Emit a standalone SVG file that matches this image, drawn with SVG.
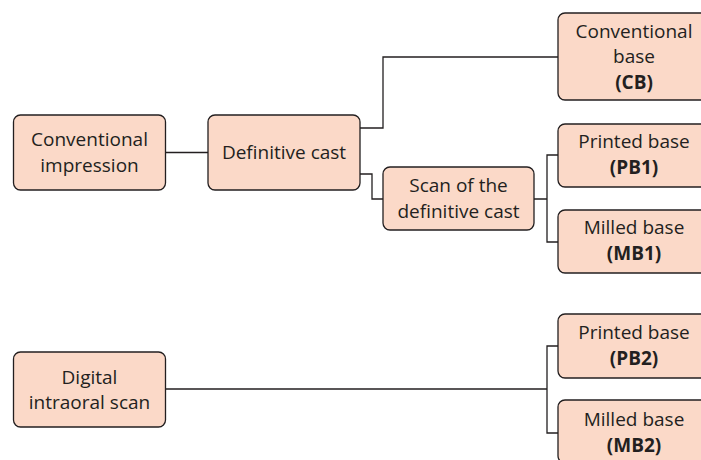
<svg xmlns="http://www.w3.org/2000/svg" width="701" height="460" viewBox="0 0 701 460">
<style>
.box{fill:#fbd9c8;stroke:#231f20;stroke-width:1.3}
.t{font-family:"Open Sans","Liberation Sans",sans-serif;font-size:19px;fill:#231f20;text-anchor:middle}
.b{font-weight:bold}
.c{fill:none;stroke:#231f20;stroke-width:1.3}
</style>
<rect width="701" height="460" fill="#ffffff"/>
<g id="connectors">
<path class="c" d="M165,152.5 H208"/>
<path class="c" d="M360,128 H383 V57 H558"/>
<path class="c" d="M360,174 H372 V199 H383"/>
<path class="c" d="M534,199 H547 M558,155 H547 V242 H558"/>
<path class="c" d="M165,389 H547 M558,346 H547 V433 H558"/>
</g>
<g id="conventional-impression">
<rect class="box" x="13.5" y="115" width="152" height="75" rx="7"/>
<text class="t" x="89.5" y="146">Conventional</text>
<text class="t" x="89.5" y="171.5">impression</text>
</g>
<g id="definitive-cast">
<rect class="box" x="208" y="115" width="152" height="75" rx="7"/>
<text class="t" x="284" y="159">Definitive cast</text>
</g>
<g id="conventional-base">
<rect class="box" x="558" y="13" width="152" height="87" rx="7"/>
<text class="t" x="634" y="37.5">Conventional</text>
<text class="t" x="634" y="63">base</text>
<text class="t b" x="634" y="88.5">(CB)</text>
</g>
<g id="scan-definitive-cast">
<rect class="box" x="383" y="167" width="151" height="63" rx="7"/>
<text class="t" x="458.5" y="192">Scan of the</text>
<text class="t" x="458.5" y="217.5">definitive cast</text>
</g>
<g id="printed-base-1">
<rect class="box" x="558" y="124" width="152" height="63" rx="7"/>
<text class="t" x="634" y="147.5">Printed base</text>
<text class="t b" x="634" y="173.5">(PB1)</text>
</g>
<g id="milled-base-1">
<rect class="box" x="558" y="210" width="152" height="63" rx="7"/>
<text class="t" x="634" y="234">Milled base</text>
<text class="t b" x="634" y="260">(MB1)</text>
</g>
<g id="digital-intraoral-scan">
<rect class="box" x="13.5" y="352" width="152" height="75" rx="7"/>
<text class="t" x="89.5" y="383.5">Digital</text>
<text class="t" x="89.5" y="409">intraoral scan</text>
</g>
<g id="printed-base-2">
<rect class="box" x="558" y="314" width="152" height="64" rx="7"/>
<text class="t" x="634" y="338.5">Printed base</text>
<text class="t b" x="634" y="365">(PB2)</text>
</g>
<g id="milled-base-2">
<rect class="box" x="558" y="400" width="152" height="63" rx="7"/>
<text class="t" x="634" y="425.5">Milled base</text>
<text class="t b" x="634" y="452">(MB2)</text>
</g>
</svg>
